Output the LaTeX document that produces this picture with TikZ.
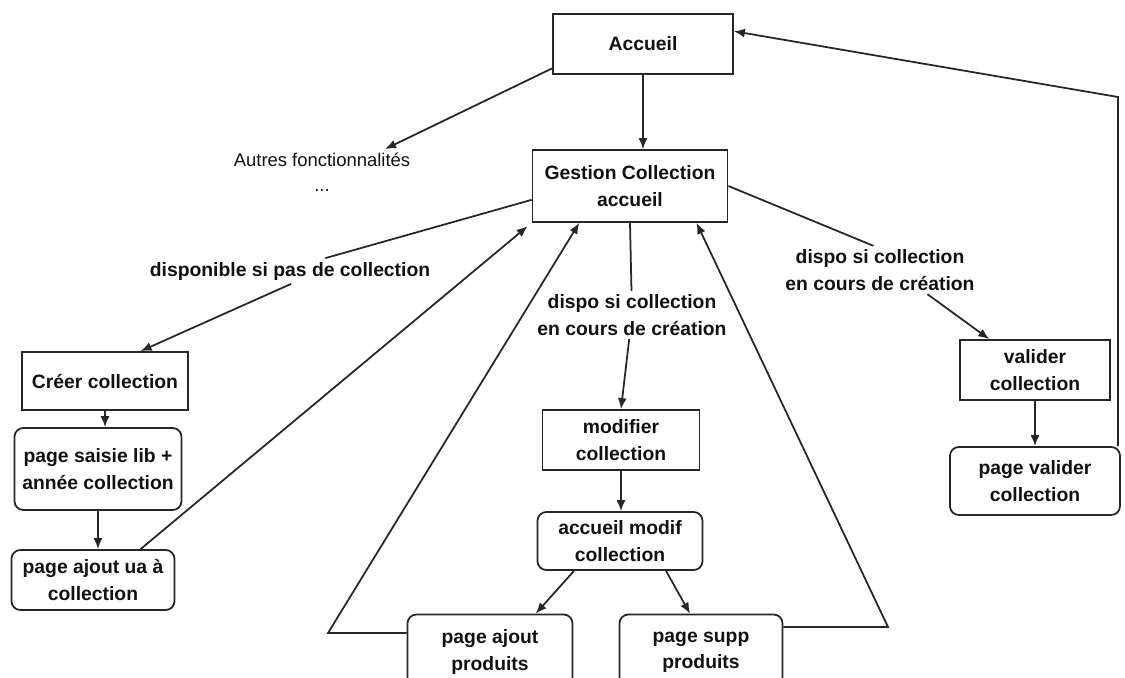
\documentclass[tikz,border=0pt]{standalone}
\usepackage{fontspec}
\setmainfont{Liberation Sans}
\usetikzlibrary{arrows.meta,positioning,calc}
\definecolor{cInk}{HTML}{262626}
\definecolor{cText}{HTML}{111111}
\tikzset{
  ecran/.style={
    draw=cInk, line width=1pt, align=center, text=cText,
    font=\bfseries\fontsize{11}{15}\selectfont, inner sep=2pt,
  },
  pagebox/.style={
    ecran, rounded corners=5pt,
  },
  cond/.style={
    align=center, text=cText, inner sep=2pt,
    font=\bfseries\fontsize{11}{15}\selectfont,
  },
  note/.style={
    align=center, text=cText, inner sep=2pt,
    font=\fontsize{10.5}{14}\selectfont,
  },
  arr/.style={
    -{Latex[length=2.2mm,width=1.8mm]}, line width=1pt, draw=cInk,
  },
  lien/.style={
    line width=1pt, draw=cInk,
  },
}

\begin{document}
\begin{tikzpicture}[x=0.02cm,y=-0.02cm]
\useasboundingbox (0,0) rectangle (1125,677);

% ═══════════════════════════════════════════════════════════════
%  HAUT : accueil + gestion collection
% ═══════════════════════════════════════════════════════════════
\node[ecran, minimum width=3.6cm, minimum height=1.2cm] (accueil) at (643,44)
  {Accueil};
\node[ecran, minimum width=3.9cm, minimum height=1.44cm] (gestion) at (630,186)
  {Gestion Collection\\accueil};
\node[note] (autres) at (322,172)
  {Autres fonctionnalités\\...};

\draw[arr] (accueil.195) -- (autres.20);
\draw[arr] (accueil.south) -- (accueil.south |- gestion.north);

% ═══════════════════════════════════════════════════════════════
%  GAUCHE : création
% ═══════════════════════════════════════════════════════════════
\node[cond] (dispoA) at (290,271)
  {disponible si pas de collection};

\node[ecran, minimum width=3.32cm, minimum height=1.16cm] (creer) at (105,381)
  {Créer collection};
\node[pagebox, minimum width=3.34cm, minimum height=1.64cm] (saisie) at (98,469)
  {page saisie lib +\\année collection};
\node[pagebox, minimum width=3.26cm, minimum height=1.2cm] (ajoutUa) at (93,580)
  {page ajout ua à\\collection};

% ── liens gauche ──
\draw[lien] (gestion.188) -- (dispoA.20);
\draw[arr] (dispoA.-85) -- (creer.40);
\draw[arr] (creer.south) -- (creer.south |- saisie.north);
\draw[arr] (saisie.south) -- (saisie.south |- ajoutUa.north);
\draw[arr, shorten >=3pt] (ajoutUa.33) -- (gestion.south west);

% ═══════════════════════════════════════════════════════════════
%  MILIEU : modification
% ═══════════════════════════════════════════════════════════════
\node[cond] (dispoB) at (632,315)
  {dispo si collection\\en cours de création};

\node[ecran, minimum width=3.14cm, minimum height=1.2cm] (modif) at (621,440)
  {modifier\\collection};
\node[pagebox, minimum width=3.3cm, minimum height=1.16cm] (accModif) at (620,541)
  {accueil modif\\collection};
\node[pagebox, minimum width=3.3cm, minimum height=1.5cm] (ajoutProd) at (490,652)
  {page ajout\\produits};
\node[pagebox, minimum width=3.26cm, minimum height=1.5cm] (suppProd) at (701,652)
  {page supp\\produits};

\coordinate (retourG) at (328,633);
\coordinate (retourD) at (888,627);

% ── liens milieu ──
\draw[lien] (gestion.south) -- (dispoB);
\draw[arr] (dispoB) -- (modif.north);
\draw[arr] (modif.south) -- (modif.south |- accModif.north);
\draw[arr] (accModif.213) -- (ajoutProd.40);
\draw[arr] (accModif.327) -- (suppProd.106);
\draw[arr] (ajoutProd.west |- retourG) -- (retourG) -- (gestion.216);
\draw[arr] (suppProd.east |- retourD) -- (retourD) -- (gestion.331);

% ═══════════════════════════════════════════════════════════════
%  DROITE : validation
% ═══════════════════════════════════════════════════════════════
\node[cond] (dispoC) at (880,270)
  {dispo si collection\\en cours de création};

\node[ecran, minimum width=3.0cm, minimum height=1.2cm] (valider) at (1035,370)
  {valider\\collection};
\node[pagebox, minimum width=3.4cm, minimum height=1.36cm] (pValider) at (1035,481)
  {page valider\\collection};

\coordinate (retourH) at (1118,97);

% ── liens droite ──
\draw[lien] (gestion.east) -- (dispoC.105);
\draw[arr] (dispoC.333) -- (valider.146);
\draw[arr] (valider.south) -- (valider.south |- pValider.north);
\draw[arr] (pValider.north -| retourH) -- (retourH) -- (accueil.8);

\end{tikzpicture}
\end{document}
